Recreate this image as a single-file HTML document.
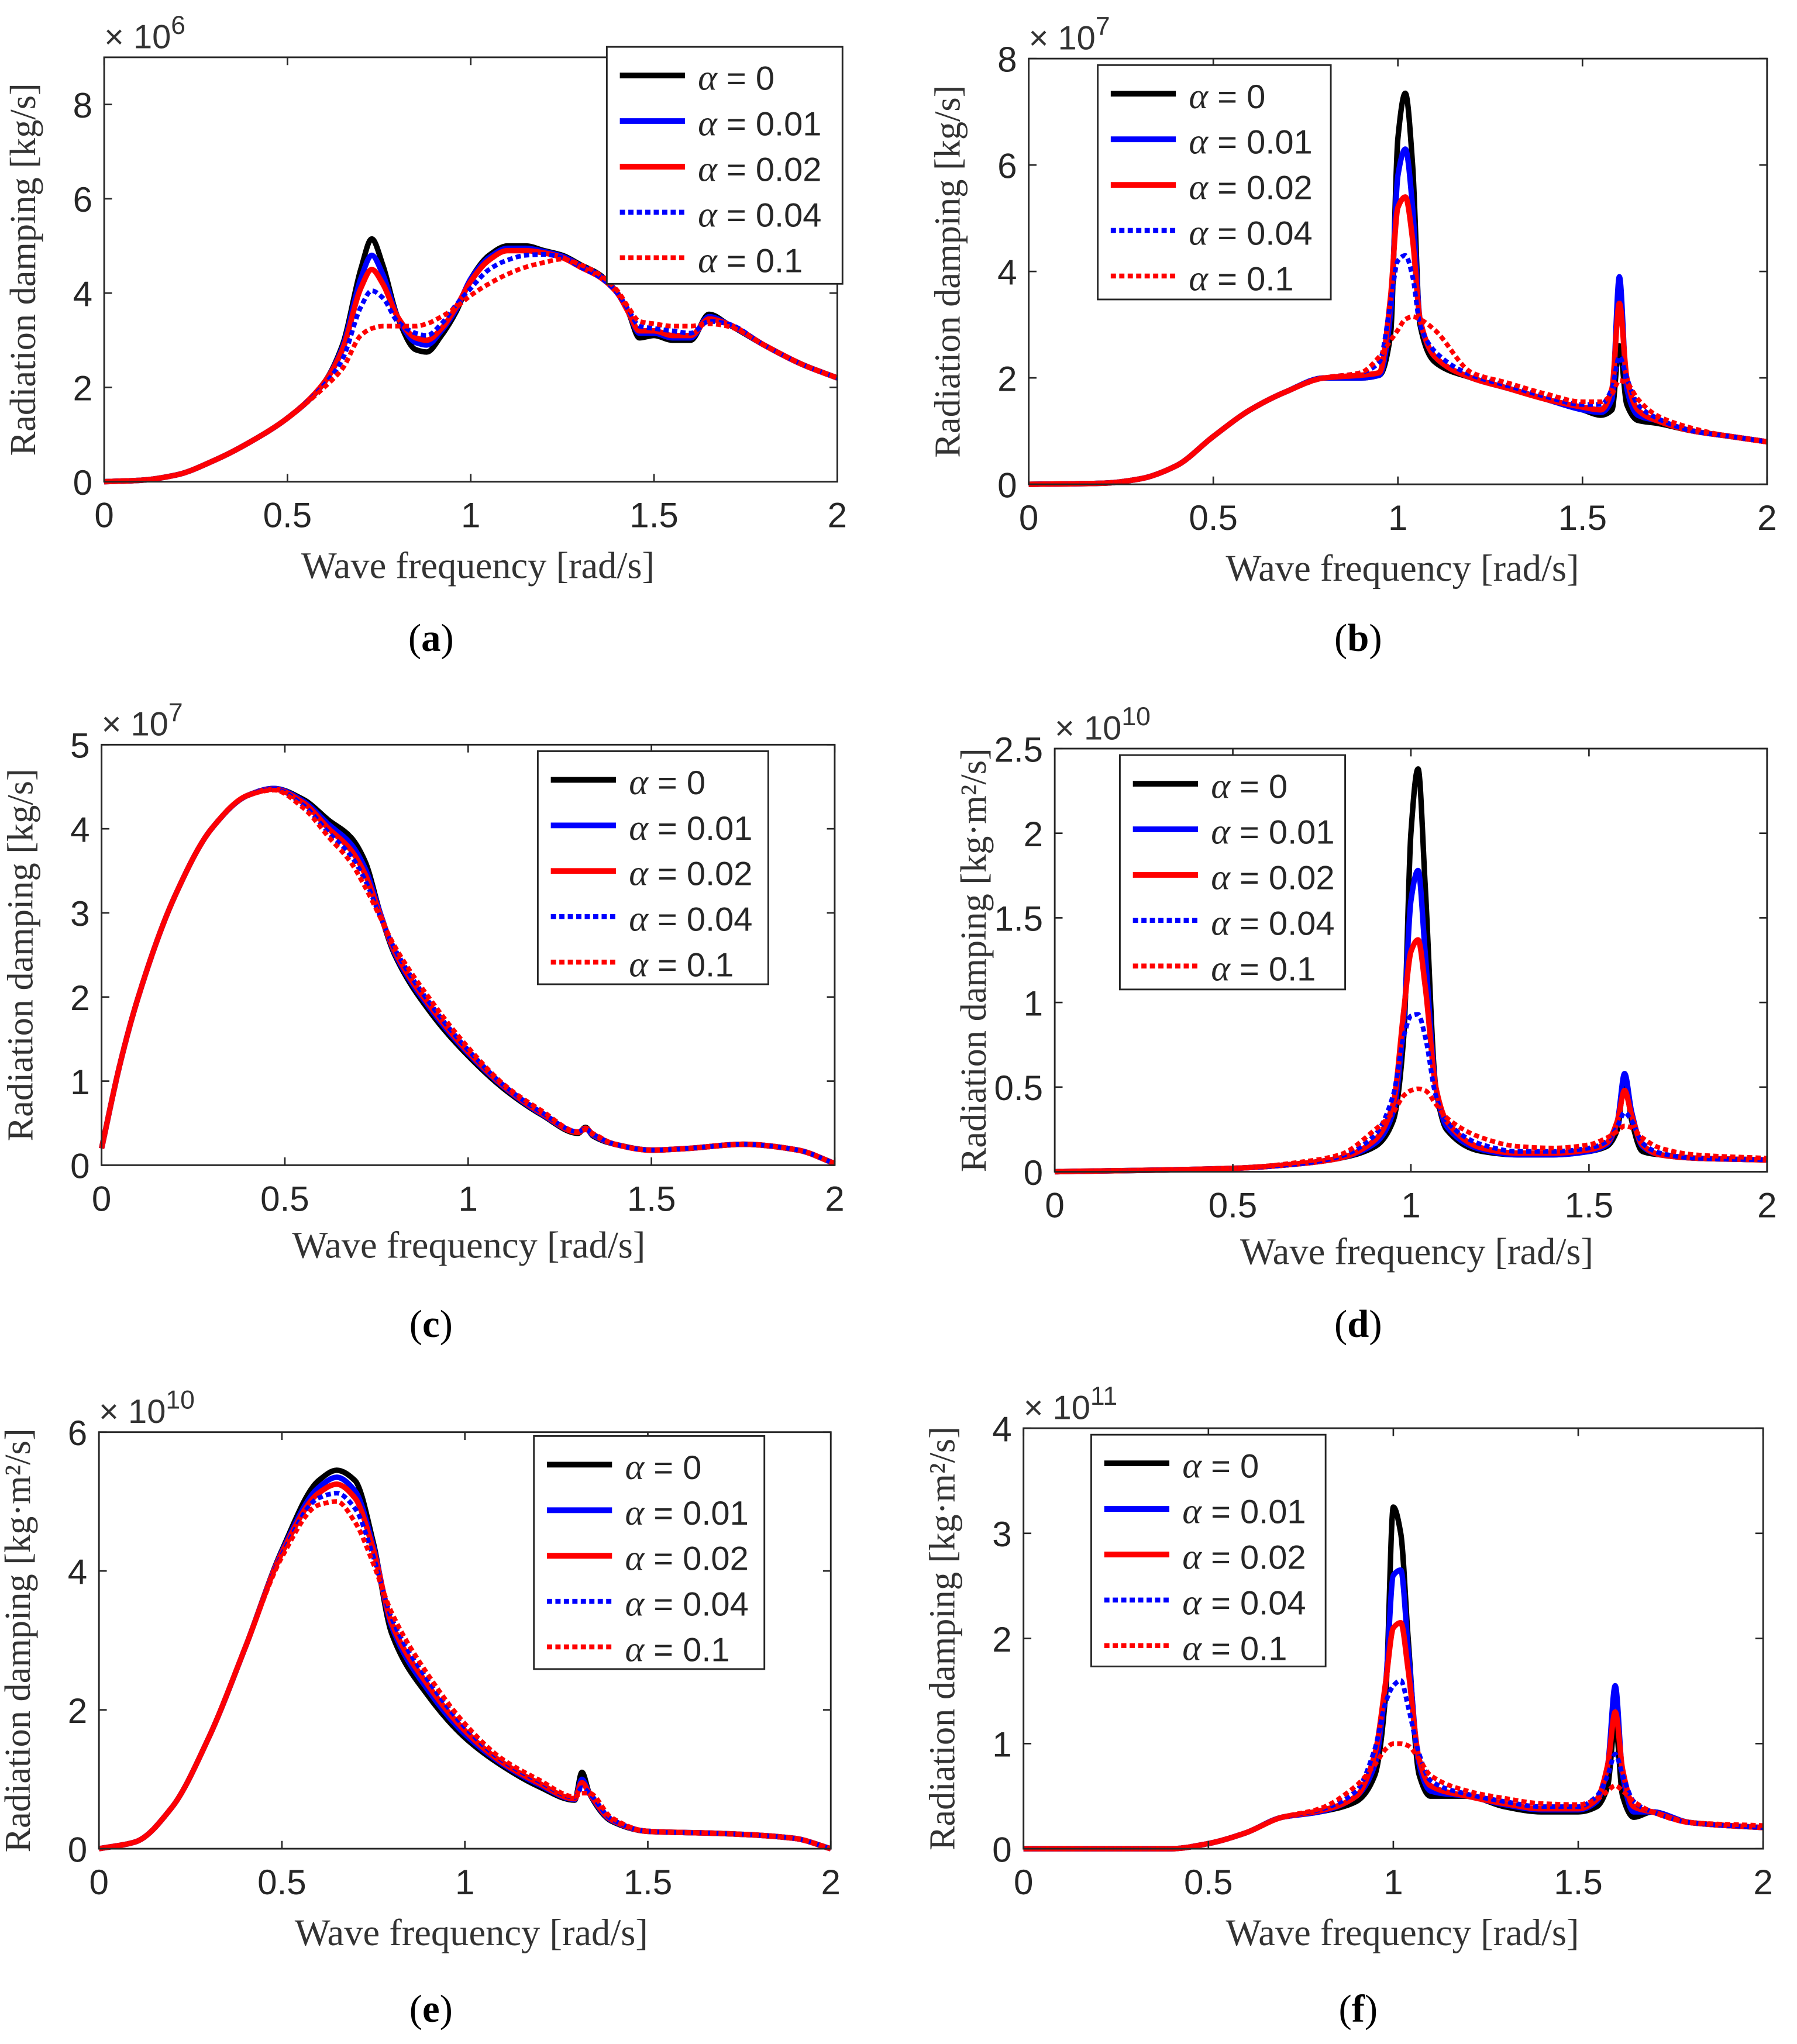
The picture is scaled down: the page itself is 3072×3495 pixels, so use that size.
<!DOCTYPE html>
<html><head><meta charset="utf-8"><style>
html,body{margin:0;padding:0;background:#fff;}
svg{display:block;}
</style></head><body>
<svg id="fig" width="3072" height="3495" viewBox="0 0 1380 1570" preserveAspectRatio="none" xmlns="http://www.w3.org/2000/svg"></svg>
<script>
// ----- Data (values in units of the panel's exponent) -----
const seriesLabels = ["α = 0","α = 0.01","α = 0.02","α = 0.04","α = 0.1"];

const xA = [0,0.1,0.2,0.3,0.4,0.5,0.6,0.65,0.7,0.73,0.76,0.8,0.85,0.88,0.92,0.96,1.0,1.05,1.1,1.15,1.2,1.25,1.3,1.35,1.4,1.43,1.46,1.5,1.55,1.6,1.65,1.7,1.8,1.9,2.0];
const yA0  = [0,0.03,0.15,0.45,0.85,1.35,2.1,2.9,4.5,5.15,4.6,3.5,2.8,2.75,3.1,3.6,4.3,4.8,5.0,5.0,4.9,4.8,4.6,4.4,4.0,3.6,3.05,3.1,3.0,3.0,3.55,3.35,2.9,2.5,2.2];
const yA1  = [0,0.03,0.15,0.45,0.85,1.35,2.1,2.85,4.3,4.8,4.4,3.5,2.95,2.9,3.2,3.65,4.3,4.75,4.95,4.95,4.88,4.78,4.58,4.38,4.0,3.6,3.15,3.15,3.05,3.05,3.5,3.35,2.9,2.5,2.2];
const yA2  = [0,0.03,0.15,0.45,0.85,1.35,2.1,2.8,4.1,4.5,4.2,3.5,3.05,3.0,3.25,3.7,4.25,4.7,4.9,4.9,4.85,4.75,4.55,4.35,4.0,3.6,3.2,3.2,3.1,3.1,3.45,3.35,2.9,2.5,2.2];
const yA4  = [0,0.03,0.15,0.45,0.85,1.35,2.05,2.6,3.7,4.05,3.9,3.4,3.15,3.1,3.35,3.75,4.1,4.5,4.7,4.8,4.82,4.75,4.55,4.35,4.0,3.65,3.3,3.25,3.2,3.15,3.4,3.35,2.9,2.5,2.2];
const yA10 = [0,0.03,0.15,0.45,0.85,1.35,2.0,2.4,3.1,3.25,3.3,3.3,3.3,3.35,3.5,3.7,3.95,4.2,4.4,4.55,4.65,4.72,4.6,4.4,4.05,3.7,3.4,3.35,3.3,3.3,3.35,3.3,2.9,2.5,2.2];

const xB = [0,0.2,0.3,0.4,0.5,0.6,0.7,0.8,0.9,0.95,0.98,1.0,1.02,1.04,1.06,1.1,1.2,1.3,1.4,1.5,1.55,1.58,1.6,1.62,1.65,1.7,1.8,1.9,2.0];
const yB0  = [0,0.02,0.1,0.35,0.9,1.4,1.75,2.0,2.0,2.05,2.8,6.5,7.35,6.0,3.0,2.3,2.0,1.8,1.6,1.4,1.3,1.4,2.6,1.5,1.2,1.15,1.0,0.9,0.8];
const yB1  = [0,0.02,0.1,0.35,0.9,1.4,1.75,2.0,2.0,2.05,3.2,5.8,6.3,5.2,3.1,2.4,2.0,1.8,1.6,1.4,1.35,1.6,3.9,1.8,1.3,1.2,1.0,0.9,0.8];
const yB2  = [0,0.02,0.1,0.35,0.9,1.4,1.75,2.0,2.05,2.1,3.5,5.2,5.4,4.6,3.1,2.4,2.0,1.8,1.6,1.45,1.4,1.8,3.4,2.0,1.4,1.2,1.0,0.9,0.8];
const yB4  = [0,0.02,0.1,0.35,0.9,1.4,1.75,2.0,2.1,2.3,3.4,4.2,4.3,3.9,3.0,2.5,2.05,1.85,1.65,1.5,1.5,1.8,2.4,2.0,1.5,1.25,1.0,0.9,0.8];
const yB10 = [0,0.02,0.1,0.35,0.9,1.4,1.75,2.0,2.1,2.4,2.7,2.9,3.1,3.15,3.1,2.9,2.1,1.9,1.7,1.55,1.55,1.7,1.95,1.9,1.6,1.3,1.05,0.9,0.8];

const xC = [0,0.05,0.1,0.2,0.3,0.4,0.47,0.55,0.62,0.68,0.72,0.76,0.8,0.9,1.0,1.1,1.2,1.3,1.32,1.34,1.4,1.5,1.6,1.75,1.9,2.0];
const yC0  = [0.2,1.2,2.0,3.2,4.0,4.4,4.48,4.35,4.1,3.9,3.6,3.0,2.5,1.8,1.3,0.9,0.6,0.38,0.45,0.35,0.25,0.18,0.2,0.25,0.18,0.02];
const yC1  = [0.2,1.2,2.0,3.2,4.0,4.4,4.48,4.33,4.05,3.82,3.52,3.0,2.52,1.84,1.33,0.92,0.61,0.39,0.44,0.36,0.25,0.18,0.2,0.25,0.18,0.02];
const yC2  = [0.2,1.2,2.0,3.2,4.0,4.4,4.47,4.31,4.0,3.75,3.45,2.98,2.54,1.87,1.35,0.93,0.62,0.39,0.44,0.37,0.25,0.18,0.2,0.25,0.18,0.02];
const yC4  = [0.2,1.2,2.0,3.2,4.0,4.4,4.47,4.28,3.95,3.68,3.38,2.96,2.57,1.9,1.37,0.94,0.63,0.4,0.43,0.37,0.25,0.18,0.2,0.25,0.18,0.02];
const yC10 = [0.2,1.2,2.0,3.2,4.0,4.4,4.46,4.25,3.9,3.6,3.3,2.95,2.6,1.95,1.4,0.95,0.65,0.4,0.42,0.38,0.25,0.18,0.2,0.25,0.18,0.02];

const xD = [0,0.5,0.7,0.8,0.9,0.95,0.98,1.0,1.02,1.04,1.07,1.1,1.2,1.3,1.4,1.5,1.55,1.58,1.6,1.62,1.65,1.7,1.8,2.0];
const yD0  = [0,0.02,0.05,0.08,0.15,0.3,0.8,2.0,2.38,1.7,0.5,0.25,0.12,0.1,0.1,0.12,0.15,0.25,0.55,0.3,0.12,0.1,0.08,0.07];
const yD1  = [0,0.02,0.05,0.08,0.17,0.35,0.9,1.6,1.78,1.3,0.5,0.27,0.13,0.1,0.1,0.12,0.16,0.3,0.58,0.35,0.15,0.1,0.08,0.07];
const yD2  = [0,0.02,0.05,0.08,0.19,0.4,0.95,1.3,1.37,1.1,0.5,0.3,0.14,0.11,0.11,0.13,0.17,0.3,0.48,0.33,0.16,0.1,0.08,0.07];
const yD4  = [0,0.02,0.05,0.09,0.22,0.45,0.8,0.92,0.93,0.8,0.45,0.3,0.16,0.12,0.12,0.14,0.18,0.27,0.35,0.3,0.17,0.11,0.08,0.07];
const yD10 = [0,0.02,0.06,0.1,0.25,0.35,0.45,0.48,0.49,0.48,0.4,0.32,0.2,0.15,0.14,0.16,0.2,0.24,0.27,0.26,0.2,0.14,0.1,0.08];

const xE = [0,0.1,0.2,0.3,0.4,0.5,0.6,0.65,0.7,0.75,0.8,0.9,1.0,1.1,1.2,1.3,1.32,1.34,1.4,1.5,1.7,1.9,2.0];
const yE0  = [0,0.1,0.6,1.6,2.9,4.3,5.3,5.45,5.3,4.4,3.1,2.2,1.6,1.2,0.9,0.7,1.1,0.8,0.4,0.25,0.22,0.15,0.0];
const yE1  = [0,0.1,0.6,1.6,2.9,4.28,5.2,5.35,5.15,4.35,3.2,2.28,1.65,1.23,0.93,0.71,1.0,0.8,0.41,0.25,0.22,0.15,0.0];
const yE2  = [0,0.1,0.6,1.6,2.9,4.26,5.12,5.25,5.05,4.3,3.25,2.35,1.7,1.25,0.95,0.72,0.95,0.8,0.42,0.25,0.22,0.15,0.0];
const yE4  = [0,0.1,0.6,1.6,2.9,4.23,5.05,5.12,4.9,4.2,3.32,2.42,1.75,1.28,0.98,0.74,0.88,0.8,0.43,0.25,0.22,0.15,0.0];
const yE10 = [0,0.1,0.6,1.6,2.9,4.2,4.95,5.0,4.7,4.1,3.4,2.5,1.8,1.3,1.0,0.75,0.8,0.8,0.45,0.25,0.22,0.15,0.0];

const xF = [0,0.4,0.5,0.6,0.7,0.8,0.9,0.95,0.98,1.0,1.02,1.04,1.07,1.1,1.2,1.3,1.4,1.5,1.55,1.58,1.6,1.62,1.65,1.7,1.8,2.0];
const yF0  = [0,0,0.05,0.15,0.3,0.35,0.45,0.7,1.5,3.25,3.0,2.0,0.7,0.5,0.5,0.4,0.35,0.35,0.4,0.6,1.2,0.5,0.3,0.35,0.25,0.2];
const yF1  = [0,0,0.05,0.15,0.3,0.35,0.5,0.8,1.6,2.6,2.65,1.9,0.8,0.55,0.5,0.42,0.37,0.37,0.45,0.8,1.55,0.7,0.35,0.35,0.25,0.2];
const yF2  = [0,0,0.05,0.15,0.3,0.36,0.5,0.9,1.6,2.1,2.15,1.7,0.85,0.6,0.5,0.43,0.38,0.38,0.47,0.8,1.3,0.75,0.4,0.35,0.25,0.2];
const yF4  = [0,0,0.05,0.15,0.3,0.37,0.55,0.95,1.4,1.55,1.6,1.35,0.9,0.65,0.52,0.45,0.4,0.4,0.5,0.7,0.9,0.7,0.45,0.35,0.25,0.2];
const yF10 = [0,0,0.05,0.15,0.3,0.38,0.6,0.8,0.95,1.0,1.0,0.98,0.85,0.7,0.55,0.48,0.43,0.42,0.47,0.55,0.6,0.55,0.45,0.35,0.25,0.22];

const xTicks = [0,0.5,1,1.5,2];
const xTickLabels = ["0","0.5","1","1.5","2"];
const yTicksA = [0,2,4,6,8], yTicksB = [0,2,4,6,8], yTicksC = [0,1,2,3,4,5];
const yTicksD = [0,0.5,1,1.5,2,2.5], yTicksE = [0,2,4,6], yTicksF = [0,1,2,3,4];
const yTickLabelsD = ["0","0.5","1","1.5","2","2.5"];

// ----- Layout -----
const panels = [
 {id:"a", l:80,r:643,t:44,b:370, ymax:9, yt:yTicksA, exp:"6", ylab:"Radiation damping [kg/s]", x:xA, ys:[yA0,yA1,yA2,yA4,yA10], leg:[466,36,181,182], xl:[367,435], cap:[331,490]},
 {id:"b", l:790,r:1357,t:45,b:372, ymax:8, yt:yTicksB, exp:"7", ylab:"Radiation damping [kg/s]", x:xB, ys:[yB0,yB1,yB2,yB4,yB10], leg:[843,50,179,180], xl:[1077,437], cap:[1043,490]},
 {id:"c", l:78,r:641,t:572,b:895, ymax:5, yt:yTicksC, exp:"7", ylab:"Radiation damping [kg/s]", x:xC, ys:[yC0,yC1,yC2,yC4,yC10], leg:[413,577,177,179], xl:[360,957], cap:[331,1017]},
 {id:"d", l:810,r:1357,t:575,b:900, ymax:2.5, yt:yTicksD, ytl:yTickLabelsD, exp:"10", ylab:"Radiation damping [kg·m²/s]", x:xD, ys:[yD0,yD1,yD2,yD4,yD10], leg:[860,580,173,180], xl:[1088,962], cap:[1043,1017]},
 {id:"e", l:76,r:638,t:1100,b:1420, ymax:6, yt:yTicksE, exp:"10", ylab:"Radiation damping [kg·m²/s]", x:xE, ys:[yE0,yE1,yE2,yE4,yE10], leg:[410,1103,177,179], xl:[362,1485], cap:[331,1543]},
 {id:"f", l:786,r:1354,t:1097,b:1420, ymax:4, yt:yTicksF, exp:"11", ylab:"Radiation damping [kg·m²/s]", x:xF, ys:[yF0,yF1,yF2,yF4,yF10], leg:[838,1102,180,178], xl:[1077,1485], cap:[1043,1543]}
];
const colors = ["#000","#0000ff","#ff0000","#0000ff","#ff0000"];
const dashed = [false,false,false,true,true];

const NS="http://www.w3.org/2000/svg";
const svg=document.getElementById("fig");
function mk(tag, attrs, parent, text){
  const e=document.createElementNS(NS,tag);
  for(const k in attrs) e.setAttribute(k,attrs[k]);
  if(text!==undefined) e.textContent=text;
  (parent||svg).appendChild(e); return e;
}
const SANS='"Liberation Sans", Arial, sans-serif', SERIF='"Liberation Serif", "Times New Roman", serif';

// monotone cubic path through screen points
function monoPath(P){
  const n=P.length; if(n<2) return "";
  const dx=[],m=[],t=new Array(n);
  for(let i=0;i<n-1;i++){dx[i]=P[i+1][0]-P[i][0]; m[i]=(P[i+1][1]-P[i][1])/dx[i];}
  t[0]=m[0]; t[n-1]=m[n-2];
  for(let i=1;i<n-1;i++){
    if(m[i-1]*m[i]<=0) t[i]=0;
    else{const w1=2*dx[i]+dx[i-1], w2=dx[i]+2*dx[i-1]; t[i]=(w1+w2)/(w1/m[i-1]+w2/m[i]);}
  }
  let d="M"+P[0][0].toFixed(1)+","+P[0][1].toFixed(1);
  for(let i=0;i<n-1;i++){
    const h=dx[i]/3;
    d+="C"+(P[i][0]+h).toFixed(1)+","+(P[i][1]+t[i]*h).toFixed(1)+" "+(P[i+1][0]-h).toFixed(1)+","+(P[i+1][1]-t[i+1]*h).toFixed(1)+" "+P[i+1][0].toFixed(1)+","+P[i+1][1].toFixed(1);
  }
  return d;
}

panels.forEach(p=>{
  const g=mk("g",{});
  
  
  const sx=v=>p.l+(v/2)*(p.r-p.l);
  const sy=v=>p.b-(v/p.ymax)*(p.b-p.t);
  p.ys.forEach((ys,si)=>{
    const pts=p.x.map((xv,i)=>[sx(xv),sy(ys[i])]);
    const path=mk("path",{d:monoPath(pts),fill:"none",stroke:colors[si],"stroke-width":dashed[si]?3.6:4.2,"stroke-linejoin":"round","stroke-dasharray":dashed[si]?"4,2.5":"none"},g);
    
    
  });
  const box=mk("rect",{x:p.l,y:p.t,width:p.r-p.l,height:p.b-p.t,fill:"none",stroke:"#262626","stroke-width":1.3},g);
  
  
  xTicks.forEach((t,i)=>{
    const X=sx(t);
    mk("line",{x1:X,x2:X,y1:p.b,y2:p.b-6,stroke:"#262626","stroke-width":1.2},g);
    mk("line",{x1:X,x2:X,y1:p.t,y2:p.t+6,stroke:"#262626","stroke-width":1.2},g);
    const tl=mk("text",{x:X,y:p.b+35,"font-family":SANS,"font-size":27,fill:"#262626","text-anchor":"middle"},g,xTickLabels[i]);
    
    
  });
  p.yt.forEach((t,i)=>{
    const Y=sy(t);
    mk("line",{x1:p.l,x2:p.l+6,y1:Y,y2:Y,stroke:"#262626","stroke-width":1.2},g);
    mk("line",{x1:p.r,x2:p.r-6,y1:Y,y2:Y,stroke:"#262626","stroke-width":1.2},g);
    const lab=p.ytl?p.ytl[i]:String(t);
    const tl=mk("text",{x:p.l-9,y:Y+10,"font-family":SANS,"font-size":27,fill:"#262626","text-anchor":"end"},g,lab);
    
    
  });
  const ex=mk("text",{x:p.l,y:p.t-7,"font-family":SANS,"font-size":26,fill:"#333"},g);
  
  
  mk("tspan",{},ex,"× 10");
  mk("tspan",{dy:-11,"font-size":20},ex,p.exp);
  const cy=(p.t+p.b)/2;
  const yl=mk("text",{x:0,y:0,transform:`translate(${p.l-53},${cy}) rotate(-90)`,"font-family":SERIF,"font-size":28,fill:"#333","text-anchor":"middle"},g,p.ylab);
  
  
  const xl=mk("text",{x:p.xl[0],y:p.xl[1]+9,"font-family":SERIF,"font-size":29,fill:"#333","text-anchor":"middle"},g,"Wave frequency [rad/s]");
  
  
  const cap=mk("text",{x:p.cap[0],y:p.cap[1]+10,"font-family":SERIF,"font-size":30,fill:"#000","text-anchor":"middle"},g);
  
  
  mk("tspan",{},cap,"(");
  mk("tspan",{"font-weight":"bold"},cap,p.id);
  mk("tspan",{},cap,")");
  const [lx,ly,lw,lh]=p.leg;
  const lg=mk("g",{},g);
  
  
  mk("rect",{x:lx,y:ly,width:lw,height:lh,fill:"#fff",stroke:"#262626","stroke-width":1.3},lg);
  seriesLabels.forEach((s,i)=>{
    const Y=ly+22+i*35;
    const ent=mk("g",{},lg);
    
    
    mk("line",{x1:lx+10,x2:lx+60,y1:Y,y2:Y,stroke:colors[i],"stroke-width":dashed[i]?3.8:4.4,"stroke-dasharray":dashed[i]?"4,2.5":"none"},ent);
    const t=mk("text",{x:lx+70,y:Y+11,"font-family":SANS,"font-size":26,fill:"#262626"},ent);
    mk("tspan",{"font-family":SERIF,"font-style":"italic","font-size":28},t,"α");
    mk("tspan",{},t,s.slice(1));
  });
});
</script>
</body></html>
